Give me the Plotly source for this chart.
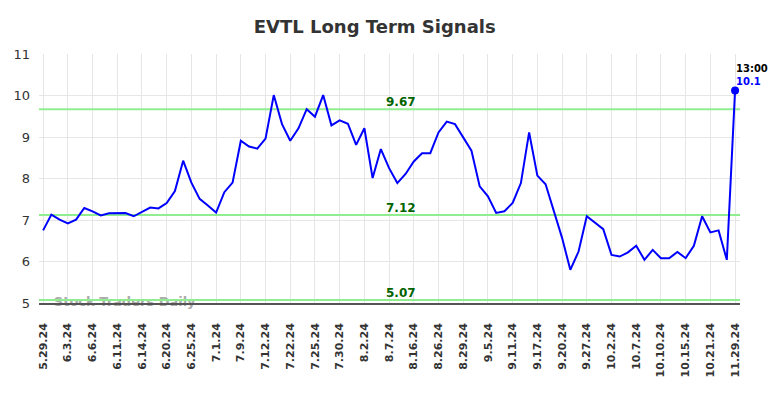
import plotly.graph_objects as go

tick_labels = ["5.29.24", "6.3.24", "6.6.24", "6.11.24", "6.14.24", "6.20.24", "6.25.24",
               "7.1.24", "7.9.24", "7.12.24", "7.22.24", "7.25.24", "7.30.24", "8.2.24",
               "8.7.24", "8.16.24", "8.26.24", "8.29.24", "9.5.24", "9.11.24", "9.17.24",
               "9.20.24", "9.27.24", "10.2.24", "10.7.24", "10.10.24", "10.15.24",
               "10.21.24", "11.29.24"]
tick_positions = [0, 3, 6, 9, 12, 15, 18, 21, 24, 27, 30, 33, 36, 39, 42, 45, 48, 51,
                  54, 57, 60, 63, 66, 69, 72, 75, 78, 81, 84]

prices = [6.75, 7.13, 7.01, 6.92, 7.01, 7.29, 7.21, 7.11, 7.16, 7.17,
          7.17, 7.09, 7.20, 7.30, 7.28, 7.41, 7.70, 8.43, 7.90, 7.51,
          7.35, 7.18, 7.67, 7.90, 8.91, 8.77, 8.72, 8.96, 10.01, 9.31,
          8.91, 9.21, 9.67, 9.49, 10.01, 9.28, 9.40, 9.32, 8.81, 9.21,
          8.01, 8.71, 8.25, 7.89, 8.11, 8.41, 8.61, 8.61, 9.11, 9.37,
          9.31, 8.99, 8.67, 7.81, 7.57, 7.17, 7.21, 7.41, 7.89, 9.11,
          8.07, 7.86, 7.22, 6.57, 5.80, 6.24, 7.09, 6.94, 6.78, 6.16,
          6.12, 6.22, 6.38, 6.04, 6.28, 6.08, 6.08, 6.23, 6.08, 6.38,
          7.09, 6.70, 6.75, 6.04, 10.12]
x_index = list(range(len(prices)))

signal_levels = [9.67, 7.12, 5.07]
signal_labels = ["9.67", "7.12", "5.07"]
y_ticks = [5, 6, 7, 8, 9, 10, 11]
last_time = "13:00"
last_label = "10.1"
watermark = "Stock Traders Daily"

fig = go.Figure()

# watermark drawn first so the lines pass over it
fig.add_trace(go.Scatter(x=[1.3], y=[5.0], mode="text", text=["<b>" + watermark + "</b>"],
                         textposition="middle right", hoverinfo="skip", showlegend=False,
                         textfont=dict(family="DejaVu Sans", size=13, color="#aaaaaa"),
                         cliponaxis=False))

for lvl in signal_levels:
    fig.add_trace(go.Scatter(x=[-0.5, 84.6], y=[lvl, lvl], mode="lines",
                             line=dict(color="#90ee90", width=2),
                             hoverinfo="skip", showlegend=False))

fig.add_trace(go.Scatter(x=x_index, y=prices, mode="lines",
                         line=dict(color="#0000ff", width=2),
                         showlegend=False))
fig.add_trace(go.Scatter(x=[x_index[-1]], y=[prices[-1]], mode="markers",
                         marker=dict(color="#0000ff", size=8),
                         showlegend=False, cliponaxis=False))

for lvl, lab in zip(signal_levels, signal_labels):
    fig.add_annotation(x=43.5, y=lvl, text="<b>" + lab + "</b>", showarrow=False,
                       yanchor="bottom", yshift=-2,
                       font=dict(family="DejaVu Sans", size=12, color="#006400"))

fig.add_annotation(x=x_index[-1], y=prices[-1], text="<b>" + last_time + "</b>",
                   showarrow=False, xanchor="left", yanchor="bottom", xshift=-1, yshift=15,
                   font=dict(family="DejaVu Sans", size=10, color="#000000"))
fig.add_annotation(x=x_index[-1], y=prices[-1], text="<b>" + last_label + "</b>",
                   showarrow=False, xanchor="left", yanchor="bottom", xshift=-1, yshift=2,
                   font=dict(family="DejaVu Sans", size=10, color="#0000ff"))

fig.update_layout(
    width=784, height=398,
    margin=dict(l=39, r=44, t=54, b=95),
    paper_bgcolor="white", plot_bgcolor="white",
    title=dict(text="<b>EVTL Long Term Signals</b>", x=0.478, xanchor="center",
               y=0.932, yanchor="middle",
               font=dict(family="DejaVu Sans", size=18, color="#333333")),
    xaxis=dict(range=[-0.5, 84.6], tickmode="array", tickvals=tick_positions,
               ticktext=["<b>" + t + "</b>" for t in tick_labels], tickangle=-90,
               showgrid=True, gridcolor="#e6e6e6", gridwidth=1,
               showline=True, linecolor="#555555", linewidth=1.5,
               ticks="", zeroline=False, ticklabelstandoff=14,
               tickfont=dict(family="DejaVu Sans", size=11, color="#333333")),
    yaxis=dict(range=[5, 11], tickvals=y_ticks, showgrid=True, gridcolor="#e6e6e6",
               zeroline=False, ticks="", showline=False, ticklabelstandoff=8,
               tickfont=dict(family="DejaVu Sans", size=13, color="#333333")),
)

fig.write_html("out.html", config={"displayModeBar": False},
               post_script="document.body.style.margin='0px';")
